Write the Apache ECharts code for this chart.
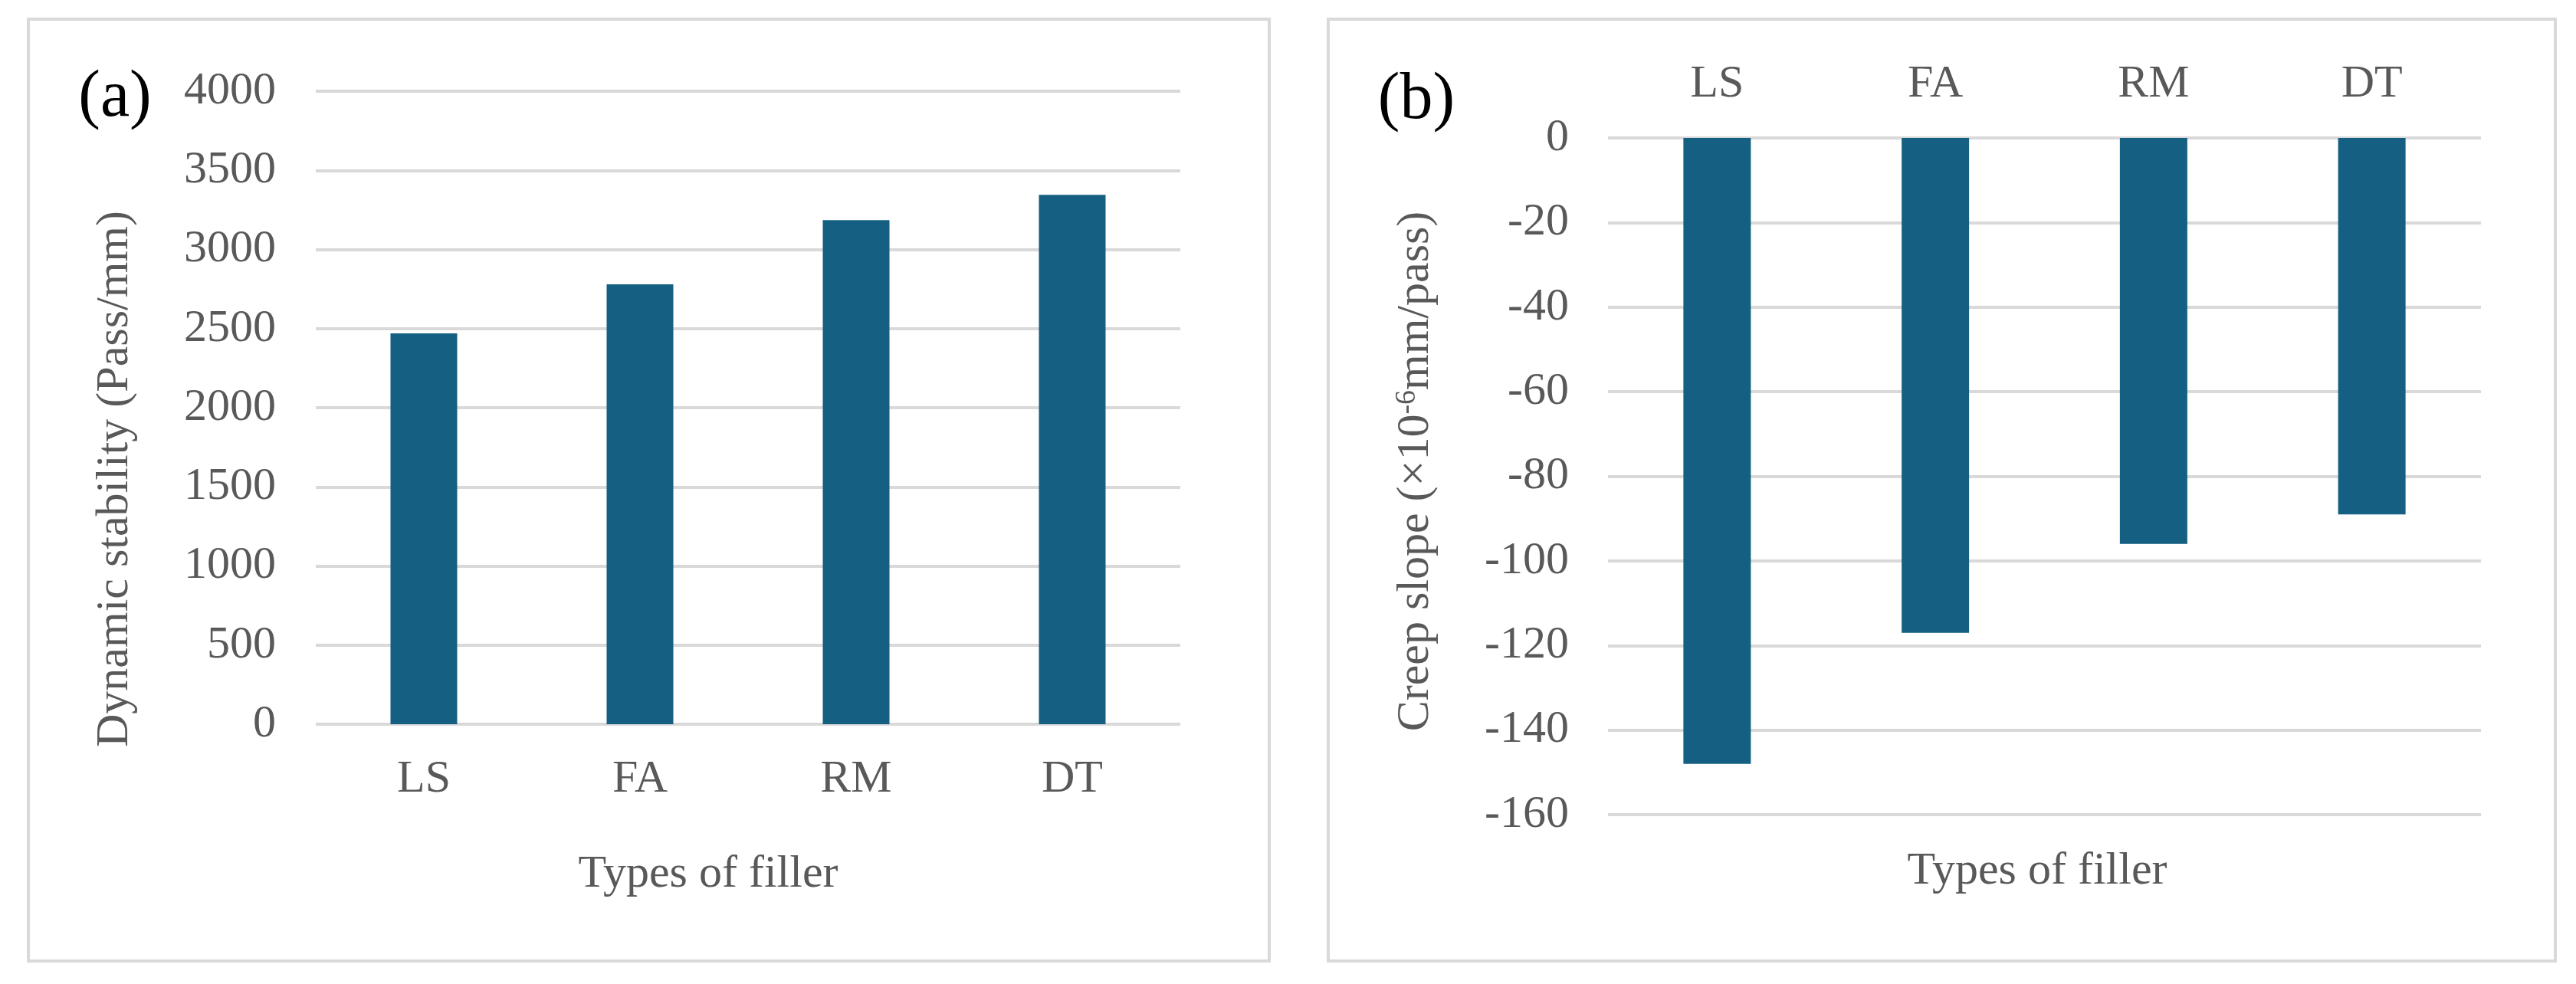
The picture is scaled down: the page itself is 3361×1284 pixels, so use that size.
<!DOCTYPE html>
<html>
<head>
<meta charset="utf-8">
<style>
  html, body { margin: 0; padding: 0; background: #ffffff; }
  #chart { width: 3361px; height: 1284px; }
</style>
<script src="https://cdn.jsdelivr.net/npm/echarts@6/dist/echarts.min.js"></script>
</head>
<body>
<div id="chart"></div>
<script>
// ---- data ----
const categories = ['LS', 'FA', 'RM', 'DT'];
const dynamicStability = [2470, 2780, 3185, 3345];   // Pass/mm
const creepSlope = [-148, -117, -96, -89];            // x10^-6 mm/pass
const stabilityAxis = { min: 0, max: 4000, interval: 500 };
const creepAxis = { min: -160, max: 0, interval: 20 };
const panelLabels = ['(a)', '(b)'];
const xTitle = 'Types of filler';
const yTitleA = 'Dynamic stability (Pass/mm)';

// ---- styles ----
const FONT = '"Liberation Serif", "Times New Roman", serif';
const TXT = '#595959';
const GRID = '#d9d9d9';
const BAR = '#156082';

const chart = echarts.init(document.getElementById('chart'), null, { renderer: 'canvas' });

const labelStyle = { fontFamily: FONT, fontSize: 60, color: TXT, formatter: function (v) { return String(v); } };

chart.setOption({
  backgroundColor: '#ffffff',
  animation: false,
  grid: [
    { left: 412, right: 1821, top: 119, bottom: 339 },
    { left: 2098, right: 124, top: 180, bottom: 221 }
  ],
  xAxis: [
    {
      type: 'category', gridIndex: 0, data: categories,
      axisLine: { show: false }, axisTick: { show: false },
      axisLabel: Object.assign({ margin: 42 }, labelStyle)
    },
    {
      type: 'category', gridIndex: 1, data: categories, position: 'top',
      axisLine: { show: false }, axisTick: { show: false },
      axisLabel: Object.assign({ margin: 40 }, labelStyle)
    }
  ],
  yAxis: [
    {
      type: 'value', gridIndex: 0,
      min: stabilityAxis.min, max: stabilityAxis.max, interval: stabilityAxis.interval,
      axisLine: { show: false }, axisTick: { show: false },
      axisLabel: Object.assign({ margin: 52 }, labelStyle),
      splitLine: { show: true, lineStyle: { color: GRID, width: 4 } }
    },
    {
      type: 'value', gridIndex: 1,
      min: creepAxis.min, max: creepAxis.max, interval: creepAxis.interval,
      axisLine: { show: false }, axisTick: { show: false },
      axisLabel: Object.assign({ margin: 51 }, labelStyle),
      splitLine: { show: true, lineStyle: { color: GRID, width: 4 } }
    }
  ],
  series: [
    {
      type: 'bar', xAxisIndex: 0, yAxisIndex: 0, data: dynamicStability,
      barWidth: 87, itemStyle: { color: BAR }
    },
    {
      type: 'bar', xAxisIndex: 1, yAxisIndex: 1, data: creepSlope,
      barWidth: 88, itemStyle: { color: BAR }
    }
  ],
  graphic: [
    { type: 'rect', shape: { x: 37, y: 25, width: 1619, height: 1229 },
      style: { fill: 'none', stroke: GRID, lineWidth: 4 }, silent: true, z: -1 },
    { type: 'rect', shape: { x: 1733, y: 25, width: 1601, height: 1229 },
      style: { fill: 'none', stroke: GRID, lineWidth: 4 }, silent: true, z: -1 },
    { type: 'text', x: 150, y: 128,
      style: { text: panelLabels[0], font: '86px ' + FONT, fill: '#000000', align: 'center', verticalAlign: 'middle' } },
    { type: 'text', x: 1848, y: 131,
      style: { text: panelLabels[1], font: '86px ' + FONT, fill: '#000000', align: 'center', verticalAlign: 'middle' } },
    { type: 'text', x: 924, y: 1141,
      style: { text: xTitle, font: '60px ' + FONT, fill: TXT, align: 'center', verticalAlign: 'middle' } },
    { type: 'text', x: 2658, y: 1137,
      style: { text: xTitle, font: '60px ' + FONT, fill: TXT, align: 'center', verticalAlign: 'middle' } },
    { type: 'text', x: 150, y: 625, rotation: Math.PI / 2,
      style: { text: yTitleA, font: '60px ' + FONT, fill: TXT, align: 'center', verticalAlign: 'middle' } },
    { type: 'text', x: 1847, y: 615, rotation: Math.PI / 2,
      style: {
        text: '{n|Creep slope (×10}{s|-6}{n|mm/pass)}',
        font: '60px ' + FONT, fill: TXT,
        align: 'center', verticalAlign: 'middle',
        rich: {
          n: { font: '60px ' + FONT, fontFamily: FONT, fontSize: 60, fill: TXT, lineHeight: 60 },
          s: { font: '38px ' + FONT, fontFamily: FONT, fontSize: 38, fill: TXT, lineHeight: 60, verticalAlign: 'top', padding: [0, 0, 22, 0] }
        }
      } }
  ]
});
</script>
</body>
</html>
